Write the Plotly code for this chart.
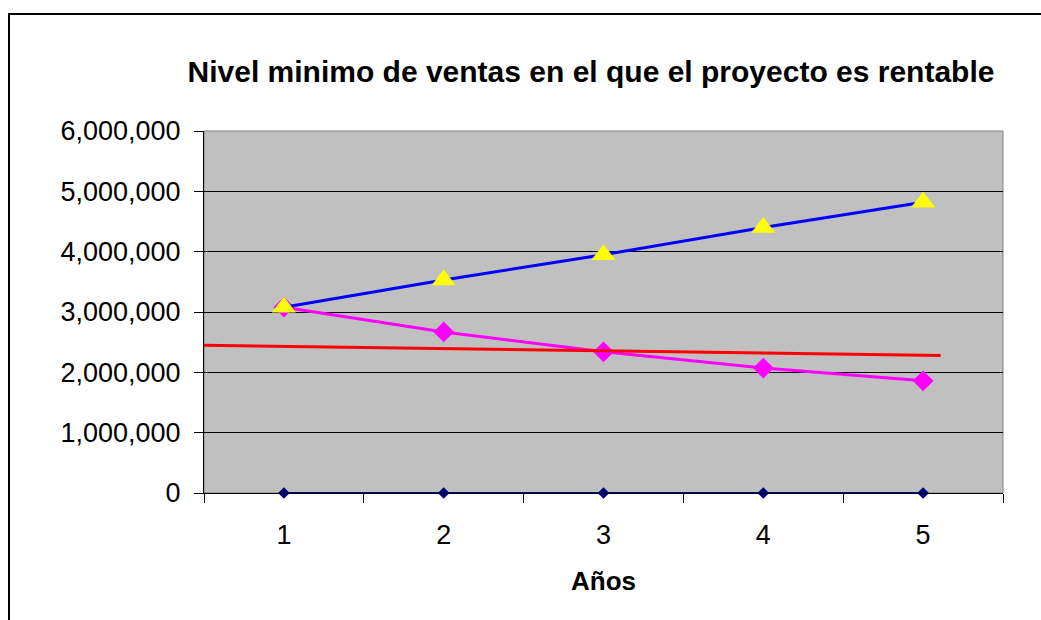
import plotly.graph_objects as go

# Data
anos = [1, 2, 3, 4, 5]
ventas_proyectadas = [3080000, 3530000, 3950000, 4400000, 4820000]
ventas_minimas = [3080000, 2670000, 2340000, 2070000, 1860000]
punto_x = [0.5, 5.11]
punto_y = [2450000, 2280000]
base = [0, 0, 0, 0, 0]
y_ticks = [0, 1000000, 2000000, 3000000, 4000000, 5000000, 6000000]
x_bordes = [0.5, 1.5, 2.5, 3.5, 4.5, 5.5]

W, H = 1041, 620
ML, MR, MT, MB = 204, 38, 131, 127
PW, PH = W - ML - MR, H - MT - MB
FONT = "Liberation Sans, Arial, sans-serif"


def px_x(px):
    return (px - ML) / PW


def px_y(py):
    return (H - MB - py) / PH


fig = go.Figure()

fig.add_trace(go.Scatter(
    x=anos, y=base, mode="lines+markers",
    line=dict(color="#000080", width=2),
    marker=dict(symbol="diamond", size=9, color="#000080"),
    showlegend=False, cliponaxis=False,
))
fig.add_trace(go.Scatter(
    x=anos, y=ventas_minimas, mode="lines+markers",
    line=dict(color="#FF00FF", width=3),
    marker=dict(symbol="diamond", size=16, color="#FF00FF"),
    showlegend=False,
))
fig.add_trace(go.Scatter(
    x=anos, y=ventas_proyectadas, mode="lines+markers",
    line=dict(color="#0000FF", width=3),
    marker=dict(symbol="triangle-up", size=21, color="#FFFF00"),
    showlegend=False,
))
fig.add_trace(go.Scatter(
    x=punto_x, y=punto_y, mode="lines",
    line=dict(color="#FF0000", width=3),
    showlegend=False,
))

fig.update_layout(
    width=W, height=H, autosize=False,
    margin=dict(l=ML, r=MR, t=MT, b=MB, pad=0),
    paper_bgcolor="white",
    plot_bgcolor="#C0C0C0",
    font=dict(family=FONT, size=27, color="black"),
    title=dict(
        text="<b>Nivel minimo de ventas en el que el proyecto es rentable</b>",
        font=dict(family=FONT, size=30, color="black"),
        x=591 / W, xref="container", xanchor="center",
        y=1 - 71 / H, yref="container", yanchor="middle",
    ),
    xaxis=dict(
        range=[0.5, 5.5],
        tickmode="array", tickvals=anos, ticktext=[str(a) for a in anos],
        ticks="", ticklabelstandoff=18,
        minor=dict(tickmode="array", tickvals=x_bordes, ticks="outside",
                   ticklen=9, tickcolor="black", tickwidth=1, showgrid=False),
        showline=True, linecolor="black", linewidth=1,
        showgrid=False, zeroline=False,
        tickfont=dict(family=FONT, size=27, color="black"),
        title=dict(text="<b>Años</b>", standoff=22,
                   font=dict(family=FONT, size=26, color="black")),
    ),
    yaxis=dict(
        range=[0, 6000000],
        tickmode="array", tickvals=y_ticks, tickformat=",d",
        ticks="outside", ticklen=9, tickcolor="black", tickwidth=1,
        ticklabelstandoff=8,
        showline=True, linecolor="black", linewidth=1,
        showgrid=True, gridcolor="black", gridwidth=1,
        zeroline=False,
        tickfont=dict(family=FONT, size=27, color="black"),
    ),
    shapes=[
        dict(type="rect", xref="paper", yref="paper",
             x0=0, x1=1, y0=0, y1=1,
             line=dict(color="#808080", width=1), layer="below"),
        dict(type="rect", xref="paper", yref="paper",
             x0=px_x(9), x1=px_x(W + 20), y0=px_y(H + 20), y1=px_y(14),
             line=dict(color="black", width=2), layer="above"),
    ],
)

fig.write_html("out.html")
